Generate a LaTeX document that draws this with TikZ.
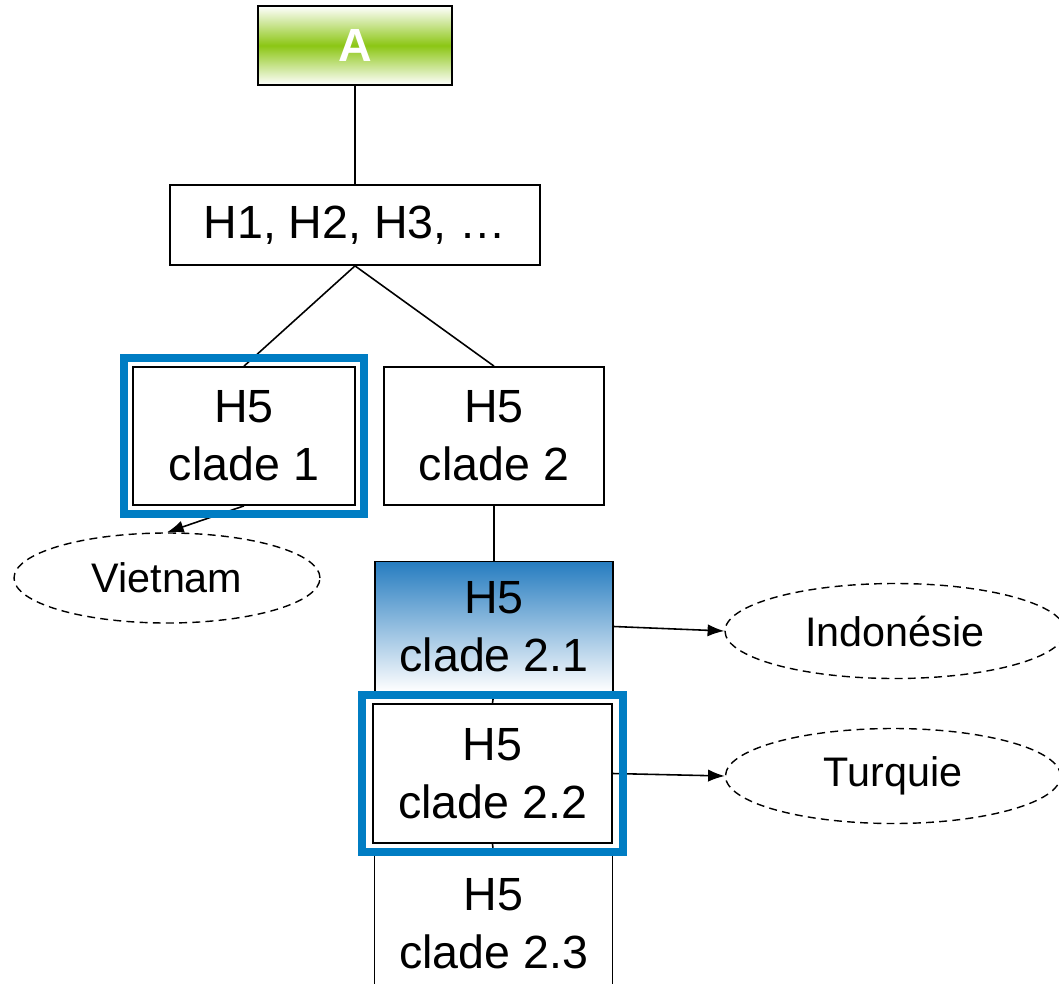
\documentclass[tikz,border=0pt]{standalone}
\usepackage{fontspec}
\setmainfont{Liberation Sans}
\usetikzlibrary{shapes.geometric,arrows.meta,fit}
\definecolor{azul}{RGB}{0,125,195}
\definecolor{azulgrad}{RGB}{38,124,192}
\definecolor{verde}{RGB}{140,198,20}
\tikzset{
	caja/.style={draw, line width=1pt, fill=white, align=center, inner sep=0pt, font=\fontsize{26.5}{33}\selectfont},
	pais/.style={draw, ellipse, line width=0.8pt, dash pattern=on 4.5pt off 3pt, inner sep=0pt, font=\fontsize{23.5}{28}\selectfont},
	marco/.style={draw=azul, line width=4.5pt},
	rama/.style={line width=0.9pt},
	flecha/.style={-{Latex[length=9.5pt,width=7pt]}, line width=0.9pt}
}
\begin{document}
\begin{tikzpicture}
	\useasboundingbox (0,0) rectangle (21.18,-19.68);
	% Cajas
		\node[caja, top color=white, bottom color=white, middle color=verde, text=white, font=\bfseries\fontsize{26.5}{33}\selectfont, minimum width=3.88cm, minimum height=1.58cm] (A) at (7.1,-0.91) {A};
		\node[caja, minimum width=7.4cm, minimum height=1.6cm] (H) at (7.1,-4.5) {H1, H2, H3, …};
		\node[caja, minimum width=4.44cm, minimum height=2.76cm] (c1) at (4.88,-8.72) {H5\\clade 1};
		\node[caja, minimum width=4.4cm, minimum height=2.76cm] (c2) at (9.88,-8.72) {H5\\clade 2};
		\node[caja, top color=azulgrad, bottom color=white, minimum width=4.76cm, minimum height=2.6cm] (c21) at (9.88,-12.53) {H5\\clade 2.1};
		\node[caja, minimum width=4.78cm, minimum height=2.78cm] (c22) at (9.85,-15.47) {H5\\clade 2.2};
		\node[caja, minimum width=4.76cm, minimum height=2.8cm] (c23) at (9.87,-18.48) {H5\\clade 2.3};
	% Países
		\node[pais, minimum width=6.12cm, minimum height=1.8cm] (vn) at (3.34,-11.56) {Vietnam};
		\node[pais, minimum width=6.8cm, minimum height=1.9cm] (id) at (17.9,-12.62) {Indonésie};
		\node[pais, minimum width=6.7cm, minimum height=1.9cm] (tr) at (17.86,-15.52) {Turquie};
	% Ramas
		\draw[rama] (A.south) -- (H.north);
		\draw[rama] (H.south) -- (c1.north);
		\draw[rama] (H.south) -- (c2.north);
		\draw[rama] (c2.south) -- (c21.north);
		\draw[rama] (c21.south) -- (c22.north);
		\draw[rama] (c22.south) -- (c23.north);
	% Flechas
		\draw[flecha] (c1.south) -- (vn.north);
		\draw[flecha] (c21.east) -- (id.west);
		\draw[flecha] (c22.east) -- (tr.west);
	% Marcos
		\node[marco, fit=(c1), inner sep=0.16cm] (m1) {};
		\node[marco, fit=(c22), inner xsep=0.2cm, inner ysep=0.17cm] (m2) {};
\end{tikzpicture}
\end{document}
